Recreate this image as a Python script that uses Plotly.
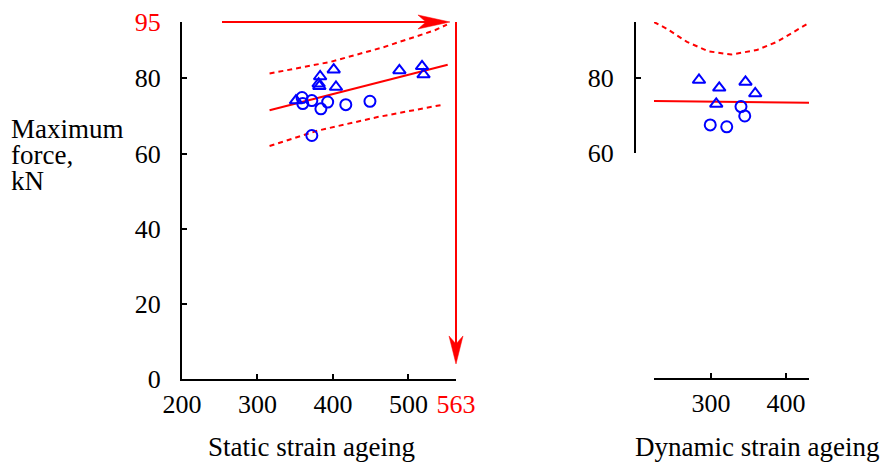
import plotly.graph_objects as go

W, H = 881, 464

# ---------------- data ----------------
# Static strain ageing panel
ssa_tri_x = [351, 383, 381, 382, 401, 404, 488, 518, 520]
ssa_tri_y = [74.1, 80.5, 78.6, 77.9, 82.3, 77.7, 82.1, 83.2, 81.0]
ssa_circ_x = [359, 360, 372, 384, 393, 417, 449, 372]
ssa_circ_y = [74.9, 73.3, 74.1, 71.9, 73.7, 73.0, 73.9, 64.8]
ssa_fit_x = [316, 552]
ssa_fit_y = [71.5, 83.6]
ssa_upper_x = [316, 397, 467, 535, 551]
ssa_upper_y = [81.3, 84.4, 88.3, 92.8, 94.3]
ssa_lower_x = [316, 380, 459, 546]
ssa_lower_y = [62.0, 66.1, 69.7, 73.0]

# Dynamic strain ageing panel
dsa_tri_x = [284, 311, 307, 346, 359]
dsa_tri_y = [79.5, 77.4, 73.1, 79.0, 75.9]
dsa_circ_x = [299, 321, 340, 345]
dsa_circ_y = [67.5, 67.0, 72.4, 69.9]
dsa_fit_x = [224, 431]
dsa_fit_y = [73.9, 73.4]
dsa_upper_x = [224, 241, 268, 296, 327, 361, 388, 415, 431]
dsa_upper_y = [95.0, 93.2, 89.7, 87.2, 86.3, 87.5, 89.7, 93.0, 94.8]

# Axis ranges and ticks
ssa_xrange = [200, 563]
ssa_yrange = [0, 95]
dsa_xrange = [224, 430.7]
dsa_yrange = [60, 95]
ssa_xticks = [200, 300, 400, 500, 563]
ssa_xticktext = ["200", "300", "400", "500", '<span style="color:#ff0000">563</span>']
ssa_yticks = [0, 20, 40, 60, 80, 95]
ssa_yticktext = ["0", "20", "40", "60", "80", '<span style="color:#ff0000">95</span>']
dsa_xticks = [300, 400]
dsa_xticktext = ["300", "400"]
dsa_yticks = [60, 80]
dsa_yticktext = ["60", "80"]

# Guide arrows (limit value 95 kN -> 563)
h_arrow_x = [253, 555]
h_arrow_y = 95
v_arrow_x = 563
v_arrow_y = [95, 4]

RED = "#ff0000"
BLUE = "#0000ff"
FONT = "Liberation Serif"


def px_x(p):
    return p / W


def px_y(p):
    return (H - p) / H


def fx(v):
    return (v - ssa_xrange[0]) / (ssa_xrange[1] - ssa_xrange[0])


def fy(v):
    return (v - ssa_yrange[0]) / (ssa_yrange[1] - ssa_yrange[0])


fig = go.Figure()

line_style = dict(color=RED, width=2)
dash_style = dict(color=RED, width=2, dash="5px,4px")
tri_marker = dict(symbol="triangle-up-open", size=11, color=BLUE, line=dict(color=BLUE, width=2))
circ_marker = dict(symbol="circle-open", size=11, color=BLUE, line=dict(color=BLUE, width=2))

# left panel
fig.add_trace(go.Scatter(x=ssa_upper_x, y=ssa_upper_y, mode="lines", line=dash_style, xaxis="x", yaxis="y"))
fig.add_trace(go.Scatter(x=ssa_lower_x, y=ssa_lower_y, mode="lines", line=dash_style, xaxis="x", yaxis="y"))
fig.add_trace(go.Scatter(x=ssa_fit_x, y=ssa_fit_y, mode="lines", line=line_style, xaxis="x", yaxis="y"))
fig.add_trace(go.Scatter(x=ssa_tri_x, y=ssa_tri_y, mode="markers", marker=tri_marker, xaxis="x", yaxis="y"))
fig.add_trace(go.Scatter(x=ssa_circ_x, y=ssa_circ_y, mode="markers", marker=circ_marker, xaxis="x", yaxis="y"))

# right panel
fig.add_trace(go.Scatter(x=dsa_upper_x, y=dsa_upper_y, mode="lines", line=dash_style, xaxis="x2", yaxis="y2"))
fig.add_trace(go.Scatter(x=dsa_fit_x, y=dsa_fit_y, mode="lines", line=line_style, xaxis="x2", yaxis="y2"))
fig.add_trace(go.Scatter(x=dsa_tri_x, y=dsa_tri_y, mode="markers", marker=tri_marker, xaxis="x2", yaxis="y2"))
fig.add_trace(go.Scatter(x=dsa_circ_x, y=dsa_circ_y, mode="markers", marker=circ_marker, xaxis="x2", yaxis="y2"))

tick_font = dict(family=FONT, size=26, color="black")
axis_common = dict(
    showline=True, linewidth=2, linecolor="black", ticks="inside", ticklen=5,
    tickwidth=1.5, tickcolor="black", showgrid=False, zeroline=False, automargin=False,
    tickfont=tick_font, fixedrange=True,
)

fig.update_layout(
    template="none",
    font=dict(family=FONT, size=26, color="black"),
    width=W, height=H, autosize=False,
    margin=dict(l=0, r=0, t=0, b=0, pad=0),
    paper_bgcolor="white", plot_bgcolor="white",
    showlegend=False,
    xaxis=dict(domain=[px_x(182), px_x(456)], range=ssa_xrange, tickmode="array",
               tickvals=ssa_xticks, ticktext=ssa_xticktext, anchor="y",
               ticklabelstandoff=1, **axis_common),
    yaxis=dict(domain=[px_y(379), px_y(22)], range=ssa_yrange, tickmode="array",
               tickvals=ssa_yticks, ticktext=ssa_yticktext, anchor="x",
               ticklabelstandoff=14, **axis_common),
    xaxis2=dict(domain=[px_x(654), px_x(809)], range=dsa_xrange, tickmode="array",
                tickvals=dsa_xticks, ticktext=dsa_xticktext, anchor="free", position=px_y(379),
                ticklabelstandoff=1, **axis_common),
    yaxis2=dict(domain=[px_y(153), px_y(22)], range=dsa_yrange, tickmode="array",
                tickvals=dsa_yticks, ticktext=dsa_yticktext, anchor="free", position=px_x(635),
                ticklabelstandoff=15, **axis_common),
)

# arrows: shafts and heads in axis-domain coordinates (unclipped), heads pixel-sized
dom = dict(xref="x domain", yref="y domain")
fig.add_shape(type="line", **dom, x0=fx(h_arrow_x[0]), x1=fx(h_arrow_x[1]) - 0.03,
              y0=fy(h_arrow_y), y1=fy(h_arrow_y), line=dict(color=RED, width=2))
fig.add_shape(type="path", **dom, xsizemode="pixel", ysizemode="pixel",
              xanchor=fx(h_arrow_x[1]), yanchor=fy(h_arrow_y),
              path="M0,0 L-32,7 L-24,0 L-32,-7 Z", fillcolor=RED, line=dict(color=RED, width=0.5))
fig.add_shape(type="line", **dom, x0=fx(v_arrow_x), x1=fx(v_arrow_x),
              y0=fy(v_arrow_y[0]), y1=fy(v_arrow_y[1]) + 0.03, line=dict(color=RED, width=2))
fig.add_shape(type="path", **dom, xsizemode="pixel", ysizemode="pixel",
              xanchor=fx(v_arrow_x), yanchor=fy(v_arrow_y[1]),
              path="M0,0 L-7,28 L0,20 L7,28 Z", fillcolor=RED, line=dict(color=RED, width=0.5))

text_font = dict(family=FONT, size=27, color="black")
for txt, yy in [("Maximum", 129), ("force,", 155), ("kN", 181)]:
    fig.add_annotation(text=txt, xref="paper", yref="paper", x=px_x(9), y=px_y(yy),
                       xanchor="left", yanchor="middle", showarrow=False, font=text_font)
fig.add_annotation(text="Static strain ageing", xref="paper", yref="paper", x=px_x(311),
                   y=px_y(447), xanchor="center", yanchor="middle", showarrow=False, font=text_font)
fig.add_annotation(text="Dynamic strain ageing", xref="paper", yref="paper", x=px_x(757),
                   y=px_y(447), xanchor="center", yanchor="middle", showarrow=False, font=text_font)

fig.write_html("out.html")
